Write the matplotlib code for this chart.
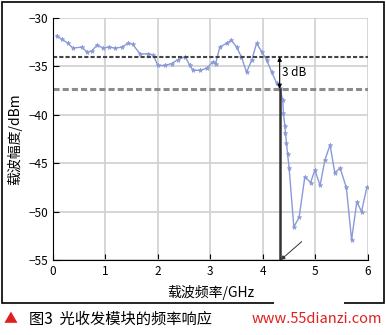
# Frequency response of optical transceiver module
import matplotlib.pyplot as plt
from matplotlib.patches import Rectangle

plt.rcParams['font.family'] = ['Noto Sans CJK SC', 'DejaVu Sans']

# Data
freq = [0.07, 0.17, 0.29, 0.38, 0.55, 0.65, 0.74, 0.84, 0.96, 1.06, 1.19, 1.32,
        1.43, 1.52, 1.66, 1.82, 1.91, 2.00, 2.13, 2.26, 2.38, 2.52, 2.61, 2.67,
        2.80, 2.93, 3.05, 3.10, 3.18, 3.31, 3.40, 3.50, 3.59, 3.69, 3.79, 3.88,
        3.98, 4.07, 4.17, 4.26, 4.32, 4.38, 4.39, 4.42, 4.43, 4.45, 4.47, 4.50,
        4.59, 4.69, 4.80, 4.91, 4.99, 5.09, 5.18, 5.28, 5.37, 5.47, 5.59, 5.69,
        5.79, 5.88, 5.98]
power = [-31.8, -32.2, -32.6, -33.1, -33.0, -33.5, -33.4, -32.8, -33.1, -33.0,
         -33.1, -33.0, -32.6, -32.7, -33.7, -33.7, -33.8, -34.9, -34.9, -34.7,
         -34.3, -34.0, -34.9, -35.4, -35.4, -35.2, -34.5, -34.7, -33.0, -32.6,
         -32.3, -33.0, -34.0, -35.6, -34.3, -32.6, -33.5, -34.3, -35.6, -36.7,
         -37.2, -38.5, -39.8, -41.2, -41.9, -42.9, -44.0, -45.5, -51.6, -50.6,
         -46.4, -47.0, -45.7, -47.3, -44.7, -43.1, -46.0, -45.5, -47.5, -52.9,
         -49.0, -50.0, -47.5]
ref_level = -34.0
cut_level = -37.3
cut_freq = 4.32

fig = plt.figure(figsize=(3.86, 3.35), dpi=100)
ax = fig.add_axes([0.137, 0.224, 0.816, 0.722])

ax.grid(True, color='#d0d0d0', linewidth=1.2)
ax.set_axisbelow(True)

ax.plot(freq, power, color='#8a9ad8', linewidth=1.0, marker='*',
        markersize=3.5, markeredgewidth=0.4)

ax.axhline(ref_level, color='#444444', linewidth=1.5, linestyle=(0, (2, 1)))
ax.axhline(cut_level, color='#8c8c8c', linewidth=2.2, linestyle=(0, (2, 1)))
ax.plot([cut_freq, cut_freq], [cut_level, -55], color='#333333', linewidth=1.8)

ax.annotate('', xy=(cut_freq, ref_level), xytext=(cut_freq, cut_level),
            arrowprops=dict(arrowstyle='<|-|>', color='black', lw=0.8,
                            mutation_scale=6, shrinkA=0, shrinkB=0))
ax.text(cut_freq + 0.05, (ref_level + cut_level) / 2, '3 dB', fontsize=8.5,
        va='center', ha='left')
ax.annotate('', xy=(cut_freq + 0.02, -55), xytext=(4.74, -53.1),
            arrowprops=dict(arrowstyle='-|>', color='#333333', lw=0.7,
                            mutation_scale=6, shrinkA=0, shrinkB=0))

ax.set_xlim(0, 6)
ax.set_ylim(-55, -30)
ax.set_xticks(range(0, 7))
ax.set_yticks([-55, -50, -45, -40, -35, -30])
ax.tick_params(direction='in', labelsize=8.5, length=4, color='black')
ax.spines['top'].set_visible(False)
ax.spines['right'].set_visible(False)
ax.set_xlabel('载波频率/GHz', fontsize=10, labelpad=5)
ax.set_ylabel('载波幅度/dBm', fontsize=10, labelpad=4)

# outer frame
fig.patches.append(Rectangle((0.004, 0.095), 0.99, 0.9, transform=fig.transFigure,
                             fill=False, edgecolor='black', linewidth=1.2))
fig.patches.append(Rectangle((0.71, 0.08), 0.18, 0.03, transform=fig.transFigure,
                             facecolor='white', edgecolor='none'))

fig.text(0.008, 0.048, '▲', color='#e02020', fontsize=10, va='center')
fig.text(0.075, 0.048, '图3  光收发模块的频率响应', color='black', fontsize=11,
         va='center')
fig.text(0.99, 0.048, 'www.55dianzi.com', color='#e02020', fontsize=10.5,
         va='center', ha='right')

fig.savefig('out.png', dpi=100)
